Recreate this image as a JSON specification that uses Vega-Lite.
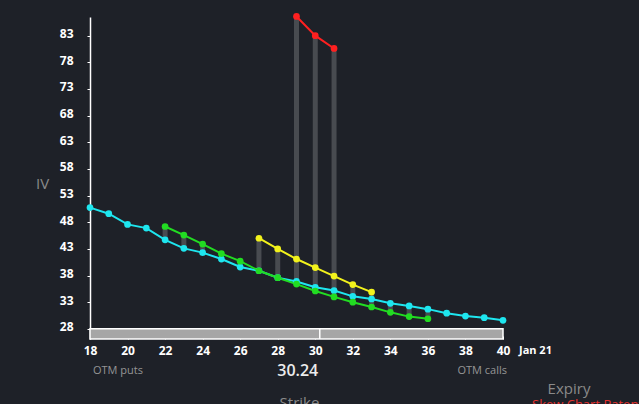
{
  "$schema": "https://vega.github.io/schema/vega-lite/v6.json",
  "width": 413,
  "height": 322,
  "autosize": {"type": "none"},
  "padding": {"left": 90, "top": 17, "right": 136, "bottom": 65},
  "background": "#1e2128",
  "config": {
    "view": {"stroke": null},
    "font": "Open Sans",
    "axis": {"grid": false}
  },
  "datasets": {
    "iv": [
      {"expiry": "Exp 1", "strike": 18, "iv": 50.75},
      {"expiry": "Exp 1", "strike": 19, "iv": 49.6},
      {"expiry": "Exp 1", "strike": 20, "iv": 47.6},
      {"expiry": "Exp 1", "strike": 21, "iv": 46.9},
      {"expiry": "Exp 1", "strike": 22, "iv": 44.7},
      {"expiry": "Exp 1", "strike": 23, "iv": 43.1},
      {"expiry": "Exp 1", "strike": 24, "iv": 42.3},
      {"expiry": "Exp 1", "strike": 25, "iv": 41.1},
      {"expiry": "Exp 1", "strike": 26, "iv": 39.6},
      {"expiry": "Exp 1", "strike": 27, "iv": 38.9},
      {"expiry": "Exp 1", "strike": 28, "iv": 37.6},
      {"expiry": "Exp 1", "strike": 29, "iv": 36.9},
      {"expiry": "Exp 1", "strike": 30, "iv": 35.8},
      {"expiry": "Exp 1", "strike": 31, "iv": 35.2},
      {"expiry": "Exp 1", "strike": 32, "iv": 34.1},
      {"expiry": "Exp 1", "strike": 33, "iv": 33.6},
      {"expiry": "Exp 1", "strike": 34, "iv": 32.8},
      {"expiry": "Exp 1", "strike": 35, "iv": 32.3},
      {"expiry": "Exp 1", "strike": 36, "iv": 31.7},
      {"expiry": "Exp 1", "strike": 37, "iv": 30.95},
      {"expiry": "Exp 1", "strike": 38, "iv": 30.4},
      {"expiry": "Exp 1", "strike": 39, "iv": 30.1},
      {"expiry": "Exp 1", "strike": 40, "iv": 29.6},
      {"expiry": "Exp 2", "strike": 22, "iv": 47.2},
      {"expiry": "Exp 2", "strike": 23, "iv": 45.6},
      {"expiry": "Exp 2", "strike": 24, "iv": 43.9},
      {"expiry": "Exp 2", "strike": 25, "iv": 42.1},
      {"expiry": "Exp 2", "strike": 26, "iv": 40.7},
      {"expiry": "Exp 2", "strike": 27, "iv": 38.9},
      {"expiry": "Exp 2", "strike": 28, "iv": 37.6},
      {"expiry": "Exp 2", "strike": 29, "iv": 36.4},
      {"expiry": "Exp 2", "strike": 30, "iv": 35.1},
      {"expiry": "Exp 2", "strike": 31, "iv": 34.0},
      {"expiry": "Exp 2", "strike": 32, "iv": 33.0},
      {"expiry": "Exp 2", "strike": 33, "iv": 32.1},
      {"expiry": "Exp 2", "strike": 34, "iv": 31.1},
      {"expiry": "Exp 2", "strike": 35, "iv": 30.3},
      {"expiry": "Exp 2", "strike": 36, "iv": 29.9},
      {"expiry": "Exp 3", "strike": 27, "iv": 45.0},
      {"expiry": "Exp 3", "strike": 28, "iv": 43.0},
      {"expiry": "Exp 3", "strike": 29, "iv": 41.1},
      {"expiry": "Exp 3", "strike": 30, "iv": 39.5},
      {"expiry": "Exp 3", "strike": 31, "iv": 37.9},
      {"expiry": "Exp 3", "strike": 32, "iv": 36.3},
      {"expiry": "Exp 3", "strike": 33, "iv": 34.9},
      {"expiry": "Exp 4", "strike": 29, "iv": 86.6},
      {"expiry": "Exp 4", "strike": 30, "iv": 83.0},
      {"expiry": "Exp 4", "strike": 31, "iv": 80.6}
    ],
    "one": [{}]
  },
  "layer": [
    {
      "data": {"name": "iv"},
      "transform": [
        {"aggregate": [{"op": "min", "field": "iv", "as": "lo"}, {"op": "max", "field": "iv", "as": "hi"}], "groupby": ["strike"]},
        {"filter": "datum.hi > datum.lo"}
      ],
      "mark": {"type": "rule", "strokeWidth": 5, "color": "#484b50"},
      "encoding": {
        "x": {"field": "strike", "type": "quantitative", "scale": {"domain": [18, 40], "nice": false, "zero": false},
          "axis": {"values": [18, 20, 22, 24, 26, 28, 30, 32, 34, 36, 38, 40], "tickCount": 30, "labelOverlap": false, "labelFlush": false, "labelBound": false,
            "domain": false, "tickSize": -3, "tickColor": "#ffffff", "tickWidth": 1,
            "labelColor": "#ffffff", "labelFontWeight": "bold", "labelFontSize": 12, "labelPadding": 9,
            "title": "Strike", "titleColor": "#8a8a8a", "titleFontSize": 15, "titleFontWeight": "normal", "titleX": 209, "titleY": 56, "titleBaseline": "top", "titleAlign": "center", "titleAnchor": null}},
        "y": {"field": "lo", "type": "quantitative", "scale": {"domain": [26.1, 86.5], "nice": false, "zero": false},
          "axis": {"values": [28, 33, 38, 43, 48, 53, 58, 63, 68, 73, 78, 83], "tickCount": 30, "labelOverlap": false, "labelFlush": false, "labelBound": false,
            "domainColor": "#ffffff", "domainWidth": 1.5, "tickColor": "#ffffff", "tickSize": 3,
            "labelColor": "#ffffff", "labelFontWeight": "bold", "labelFontSize": 12, "labelPadding": 14, "labelOffset": -2,
            "title": "IV", "titleAngle": 0, "titleColor": "#8a8a8a", "titleFontSize": 15, "titleFontWeight": "normal", "titleX": -48, "titleY": 166, "titleAlign": "center", "titleBaseline": "middle"}},
        "y2": {"field": "hi"}
      }
    },
    {
      "data": {"name": "one"},
      "mark": {"type": "rect", "fill": "#a6a6a6", "stroke": "#ffffff", "strokeWidth": 1.5},
      "encoding": {
        "x": {"datum": 18, "type": "quantitative"},
        "x2": {"datum": 40},
        "y": {"datum": 26.1, "type": "quantitative"},
        "y2": {"datum": 28}
      }
    },
    {
      "data": {"name": "one"},
      "mark": {"type": "rule", "color": "#ffffff", "strokeWidth": 1.5},
      "encoding": {
        "x": {"datum": 30.24, "type": "quantitative"},
        "y": {"datum": 26.1, "type": "quantitative"},
        "y2": {"datum": 28}
      }
    },
    {
      "data": {"name": "iv"},
      "mark": {"type": "line", "strokeWidth": 2},
      "encoding": {
        "x": {"field": "strike", "type": "quantitative"},
        "y": {"field": "iv", "type": "quantitative"},
        "color": {"field": "expiry", "type": "nominal", "legend": null,
          "scale": {"domain": ["Exp 1", "Exp 2", "Exp 3", "Exp 4"], "range": ["#1ee6ef", "#22dc22", "#f2f21c", "#ff2020"]}}
      }
    },
    {
      "data": {"name": "iv"},
      "mark": {"type": "point", "filled": true, "opacity": 1, "size": 45},
      "encoding": {
        "x": {"field": "strike", "type": "quantitative"},
        "y": {"field": "iv", "type": "quantitative"},
        "color": {"field": "expiry", "type": "nominal", "legend": null}
      }
    },
    {
      "data": {"name": "one"},
      "mark": {"type": "text", "align": "left", "baseline": "middle", "dx": 3, "dy": 32, "fontSize": 11, "color": "#959595"},
      "encoding": {"x": {"datum": 18, "type": "quantitative"}, "y": {"datum": 26.1, "type": "quantitative"}, "text": {"value": "OTM puts"}}
    },
    {
      "data": {"name": "one"},
      "mark": {"type": "text", "align": "right", "baseline": "middle", "dx": 4, "dy": 32, "fontSize": 11, "color": "#959595"},
      "encoding": {"x": {"datum": 40, "type": "quantitative"}, "y": {"datum": 26.1, "type": "quantitative"}, "text": {"value": "OTM calls"}}
    },
    {
      "data": {"name": "one"},
      "mark": {"type": "text", "align": "center", "baseline": "middle", "dx": -22, "dy": 32, "fontSize": 16, "fontWeight": 600, "color": "#ececec"},
      "encoding": {"x": {"datum": 30.24, "type": "quantitative"}, "y": {"datum": 26.1, "type": "quantitative"}, "text": {"value": "30.24"}}
    },
    {
      "data": {"name": "one"},
      "mark": {"type": "text", "align": "left", "baseline": "middle", "dx": 16, "dy": 12, "fontSize": 11, "fontWeight": "bold", "color": "#ffffff"},
      "encoding": {"x": {"datum": 40, "type": "quantitative"}, "y": {"datum": 26.1, "type": "quantitative"}, "text": {"value": "Jan 21"}}
    },
    {
      "data": {"name": "one"},
      "mark": {"type": "text", "align": "center", "baseline": "middle", "dx": 66, "dy": 50, "fontSize": 15, "color": "#8a8a8a"},
      "encoding": {"x": {"datum": 40, "type": "quantitative"}, "y": {"datum": 26.1, "type": "quantitative"}, "text": {"value": "Expiry"}}
    },
    {
      "data": {"name": "one"},
      "mark": {"type": "text", "align": "left", "baseline": "top", "dx": 29, "dy": 60, "fontSize": 13, "color": "#e8322f"},
      "encoding": {"x": {"datum": 40, "type": "quantitative"}, "y": {"datum": 26.1, "type": "quantitative"}, "text": {"value": "Skew Chart Patent"}}
    }
  ]
}
